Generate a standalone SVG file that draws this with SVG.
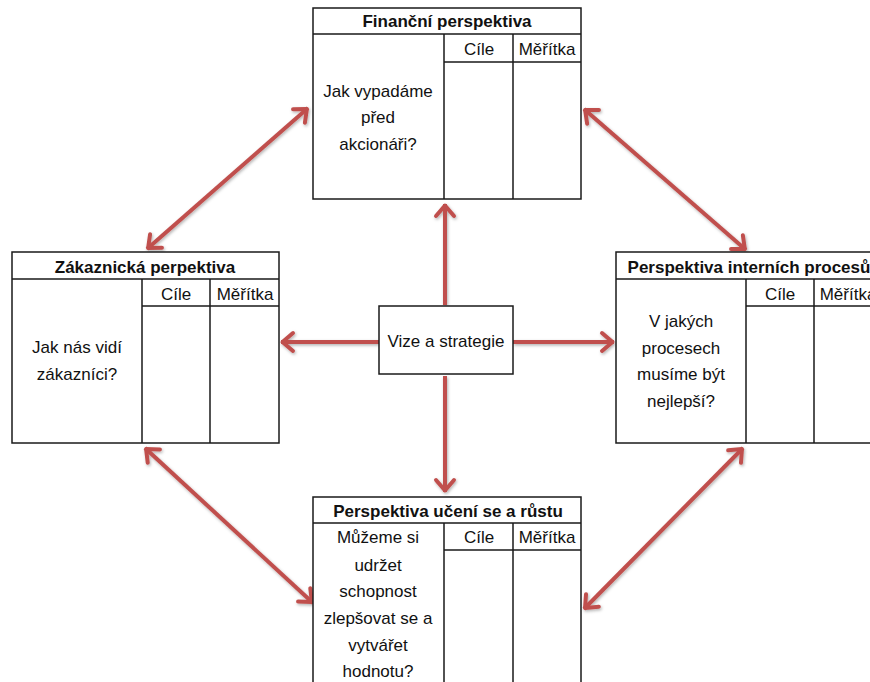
<svg xmlns="http://www.w3.org/2000/svg" width="870" height="682" viewBox="0 0 870 682">
<style>
.box{fill:#fff;stroke:#1a1a1a;stroke-width:1.5}
.ln{stroke:#1a1a1a;stroke-width:1.5;fill:none}
.t{font-family:"Liberation Sans",Arial,sans-serif;font-size:17px;fill:#111;text-anchor:middle}
.h{font-weight:bold}
.arr{stroke:#c0504d;stroke-width:4;fill:none}
</style>
<defs>
<marker id="ah" markerUnits="userSpaceOnUse" markerWidth="30" markerHeight="30" viewBox="-15 -15 30 30" refX="0" refY="0" orient="auto-start-reverse" overflow="visible">
<path d="M-12,-9 L-1.5,0 L-12,9" fill="none" stroke="#c0504d" stroke-width="4" stroke-linecap="round" stroke-linejoin="round"/>
</marker>
<filter id="sh" x="-20%" y="-20%" width="140%" height="140%">
<feDropShadow dx="1" dy="1.5" stdDeviation="1.5" flood-color="#000" flood-opacity="0.3"/>
</filter>
</defs>
<rect width="870" height="682" fill="#fff"/>

<g id="connectors" filter="url(#sh)">
<line class="arr" x1="445" y1="305" x2="445" y2="204" marker-end="url(#ah)"/>
<line class="arr" x1="445" y1="376" x2="445" y2="492" marker-end="url(#ah)"/>
<line class="arr" x1="379" y1="342" x2="281" y2="342" marker-end="url(#ah)"/>
<line class="arr" x1="513" y1="342" x2="614" y2="342" marker-end="url(#ah)"/>
<line class="arr" x1="147" y1="249" x2="308" y2="108" marker-start="url(#ah)" marker-end="url(#ah)"/>
<line class="arr" x1="584" y1="109" x2="746" y2="250" marker-start="url(#ah)" marker-end="url(#ah)"/>
<line class="arr" x1="145" y1="448" x2="313" y2="603" marker-start="url(#ah)" marker-end="url(#ah)"/>
<line class="arr" x1="743" y1="448" x2="584" y2="609" marker-start="url(#ah)" marker-end="url(#ah)"/>
</g>

<g id="financni">
<rect class="box" x="313" y="8" width="268" height="191"/>
<path class="ln" d="M313,34 H581 M444,34 V199 M513,34 V199 M444,62 H581"/>
<text class="t h" x="447" y="27">Finanční perspektiva</text>
<text class="t" x="479" y="55">Cíle</text>
<text class="t" x="547" y="55">Měřítka</text>
<text class="t" x="378" y="97">Jak vypadáme</text>
<text class="t" x="378" y="123">před</text>
<text class="t" x="378" y="150">akcionáři?</text>
</g>

<g id="zakaznicka">
<rect class="box" x="12" y="252" width="267" height="191"/>
<path class="ln" d="M12,279 H279 M142,279 V443 M210,279 V443 M142,306 H279"/>
<text class="t h" x="145" y="273">Zákaznická perpektiva</text>
<text class="t" x="176" y="300">Cíle</text>
<text class="t" x="245" y="300">Měřítka</text>
<text class="t" x="77" y="353">Jak nás vidí</text>
<text class="t" x="77" y="380">zákazníci?</text>
</g>

<g id="interni">
<rect class="box" x="616" y="252" width="266" height="191"/>
<path class="ln" d="M616,279 H882 M746,279 V443 M814,279 V443 M746,306 H882"/>
<text class="t h" x="749" y="273">Perspektiva interních procesů</text>
<text class="t" x="780" y="300">Cíle</text>
<text class="t" x="848" y="300">Měřítka</text>
<text class="t" x="681" y="327">V jakých</text>
<text class="t" x="681" y="354">procesech</text>
<text class="t" x="681" y="380">musíme být</text>
<text class="t" x="681" y="407">nejlepší?</text>
</g>

<g id="uceni">
<rect class="box" x="313" y="497" width="268" height="200"/>
<path class="ln" d="M313,523 H581 M444,523 V697 M513,523 V697 M444,550 H581"/>
<text class="t h" x="448" y="517">Perspektiva učení se a růstu</text>
<text class="t" x="479" y="543">Cíle</text>
<text class="t" x="547" y="543">Měřítka</text>
<text class="t" x="378" y="543">Můžeme si</text>
<text class="t" x="378" y="571">udržet</text>
<text class="t" x="378" y="597">schopnost</text>
<text class="t" x="378" y="624">zlepšovat se a</text>
<text class="t" x="378" y="651">vytvářet</text>
<text class="t" x="378" y="677">hodnotu?</text>
</g>

<g id="vize">
<rect class="box" x="379" y="306" width="134" height="68"/>
<text class="t" x="446" y="347">Vize a strategie</text>
</g>
</svg>
